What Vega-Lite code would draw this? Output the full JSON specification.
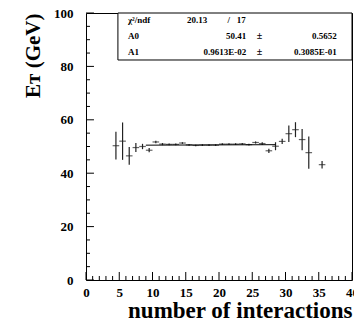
{
  "$schema": "https://vega.github.io/schema/vega-lite/v6.json",
  "width": 266,
  "height": 267,
  "autosize": {"type": "none"},
  "padding": {"left": 86, "top": 13, "right": 2, "bottom": 43},
  "background": "white",
  "config": {
    "view": {"stroke": "black", "strokeWidth": 1},
    "axis": {
      "domain": false,
      "ticks": false,
      "grid": false,
      "labelFont": "Liberation Serif",
      "labelFontWeight": "bold",
      "labelFontSize": 13,
      "labelColor": "black",
      "titleFont": "Liberation Serif",
      "titleFontWeight": "bold",
      "titleColor": "black",
      "labelOverlap": false,
      "labelFlush": false
    }
  },
  "datasets": {
    "points": [
      {"n": 4.5, "et": 50.3, "err": 5.2},
      {"n": 5.5, "et": 52.0, "err": 7.0},
      {"n": 6.5, "et": 46.5, "err": 3.3},
      {"n": 7.5, "et": 49.6, "err": 1.7},
      {"n": 8.5, "et": 50.0, "err": 1.0},
      {"n": 9.5, "et": 48.6, "err": 0.8},
      {"n": 10.5, "et": 51.7, "err": 0.5},
      {"n": 11.5, "et": 50.9, "err": 0.4},
      {"n": 12.5, "et": 50.8, "err": 0.3},
      {"n": 13.5, "et": 50.8, "err": 0.3},
      {"n": 14.5, "et": 51.3, "err": 0.3},
      {"n": 15.5, "et": 50.6, "err": 0.3},
      {"n": 16.5, "et": 50.4, "err": 0.3},
      {"n": 17.5, "et": 50.5, "err": 0.3},
      {"n": 18.5, "et": 50.5, "err": 0.3},
      {"n": 19.5, "et": 50.5, "err": 0.3},
      {"n": 20.5, "et": 50.9, "err": 0.3},
      {"n": 21.5, "et": 50.9, "err": 0.3},
      {"n": 22.5, "et": 50.9, "err": 0.3},
      {"n": 23.5, "et": 51.0, "err": 0.3},
      {"n": 24.5, "et": 50.7, "err": 0.3},
      {"n": 25.5, "et": 51.5, "err": 0.4},
      {"n": 26.5, "et": 51.1, "err": 0.5},
      {"n": 27.5, "et": 48.4, "err": 0.8},
      {"n": 28.5, "et": 50.1, "err": 1.5},
      {"n": 29.5, "et": 51.9, "err": 1.0},
      {"n": 30.5, "et": 54.8, "err": 3.1},
      {"n": 31.5, "et": 56.3, "err": 2.8},
      {"n": 32.5, "et": 52.6, "err": 4.0},
      {"n": 33.5, "et": 47.7, "err": 6.0},
      {"n": 35.5, "et": 43.2, "err": 1.4}
    ],
    "fit": [
      {"n": 9.0, "et": 50.50},
      {"n": 28.5, "et": 50.68}
    ],
    "xticks": [
      {"v": 0}, {"v": 1}, {"v": 2}, {"v": 3}, {"v": 4}, {"v": 5}, {"v": 6}, {"v": 7}, {"v": 8}, {"v": 9},
      {"v": 10}, {"v": 11}, {"v": 12}, {"v": 13}, {"v": 14}, {"v": 15}, {"v": 16}, {"v": 17}, {"v": 18}, {"v": 19},
      {"v": 20}, {"v": 21}, {"v": 22}, {"v": 23}, {"v": 24}, {"v": 25}, {"v": 26}, {"v": 27}, {"v": 28}, {"v": 29},
      {"v": 30}, {"v": 31}, {"v": 32}, {"v": 33}, {"v": 34}, {"v": 35}, {"v": 36}, {"v": 37}, {"v": 38}, {"v": 39},
      {"v": 40}
    ],
    "yticks": [
      {"v": 0}, {"v": 5}, {"v": 10}, {"v": 15}, {"v": 20}, {"v": 25}, {"v": 30}, {"v": 35}, {"v": 40}, {"v": 45},
      {"v": 50}, {"v": 55}, {"v": 60}, {"v": 65}, {"v": 70}, {"v": 75}, {"v": 80}, {"v": 85}, {"v": 90}, {"v": 95},
      {"v": 100}
    ],
    "stats": [
      {"name": "χ²/ndf", "value": "", "sep": "", "error": "", "summary": "20.13\u00a0\u00a0\u00a0\u00a0\u00a0\u00a0\u00a0\u00a0\u00a0/\u00a0\u00a0\u00a017"},
      {"name": "A0", "value": "50.41", "sep": "±", "error": "0.5652", "summary": ""},
      {"name": "A1", "value": "0.9613E-02", "sep": "±", "error": "0.3085E-01", "summary": ""}
    ]
  },
  "layer": [
    {
      "data": {"name": "points"},
      "resolve": {"axis": {"x": "independent", "y": "independent"}},
      "layer": [
        {
          "mark": {"type": "tick", "orient": "horizontal", "size": 6.6, "thickness": 1.2, "color": "#222"},
          "encoding": {
            "x": {
              "field": "n", "type": "quantitative",
              "scale": {"domain": [0, 40], "nice": false, "zero": false},
              "axis": {
                "orient": "bottom",
                "values": [0, 5, 10, 15, 20, 25, 30, 35, 40],
                "format": "d",
                "labelPadding": 6,
                "labelOverlap": false,
                "title": "number of interactions",
                "titleFontSize": 23,
                "titleAnchor": "end",
                "titlePadding": 0
              }
            },
            "y": {
              "field": "et", "type": "quantitative",
              "scale": {"domain": [0, 100], "nice": false},
              "axis": {
                "orient": "left",
                "values": [0, 20, 40, 60, 80, 100],
                "format": "d",
                "labelPadding": 13,
                "labelOverlap": false,
                "title": "Eᴛ (GeV)",
                "titleFontSize": 21,
                "titleAnchor": "end",
                "titlePadding": 10
              }
            }
          }
        },
        {
          "mark": {"type": "errorbar", "thickness": 1.2, "color": "#222"},
          "encoding": {
            "x": {"field": "n", "type": "quantitative", "axis": null},
            "y": {"field": "et", "type": "quantitative", "axis": null},
            "yError": {"field": "err"}
          }
        },
        {
          "data": {"name": "fit"},
          "mark": {"type": "line", "color": "black", "strokeWidth": 1},
          "encoding": {
            "x": {"field": "n", "type": "quantitative", "axis": null},
            "y": {"field": "et", "type": "quantitative", "axis": null}
          }
        },
        {
          "data": {"name": "xticks"},
          "transform": [{"filter": "datum.v % 5 === 0"}],
          "mark": {"type": "rule", "color": "black", "strokeWidth": 1},
          "encoding": {
            "x": {"field": "v", "type": "quantitative", "axis": null},
            "y": {"datum": 0, "type": "quantitative", "axis": null},
            "y2": {"datum": 3}
          }
        },
        {
          "data": {"name": "xticks"},
          "transform": [{"filter": "datum.v % 5 !== 0"}],
          "mark": {"type": "rule", "color": "black", "strokeWidth": 1},
          "encoding": {
            "x": {"field": "v", "type": "quantitative", "axis": null},
            "y": {"datum": 0, "type": "quantitative", "axis": null},
            "y2": {"datum": 1.5}
          }
        },
        {
          "data": {"name": "yticks"},
          "transform": [{"filter": "datum.v % 20 === 0"}],
          "mark": {"type": "rule", "color": "black", "strokeWidth": 1},
          "encoding": {
            "y": {"field": "v", "type": "quantitative", "axis": null},
            "x": {"datum": 0, "type": "quantitative", "axis": null},
            "x2": {"datum": 1.2}
          }
        },
        {
          "data": {"name": "yticks"},
          "transform": [{"filter": "datum.v % 20 !== 0"}],
          "mark": {"type": "rule", "color": "black", "strokeWidth": 1},
          "encoding": {
            "y": {"field": "v", "type": "quantitative", "axis": null},
            "x": {"datum": 0, "type": "quantitative", "axis": null},
            "x2": {"datum": 0.6}
          }
        },
        {
          "data": {"values": [{}]},
          "mark": {"type": "rect", "fill": "white", "stroke": "black", "strokeWidth": 1},
          "encoding": {
            "x": {"datum": 4.8, "type": "quantitative", "axis": null},
            "x2": {"datum": 40},
            "y": {"datum": 82.4, "type": "quantitative", "axis": null},
            "y2": {"datum": 100}
          }
        }
      ]
    },
    {
      "data": {"name": "stats"},
      "encoding": {
        "y": {
          "field": "name", "type": "nominal", "sort": null,
          "scale": {"type": "point", "domain": ["χ²/ndf", "A0", "A1"], "range": [7, 39], "padding": 0},
          "axis": null
        }
      },
      "layer": [
        {
          "mark": {"type": "text", "align": "left", "baseline": "middle", "font": "Liberation Serif", "fontWeight": "bold", "fontSize": 9, "color": "black"},
          "encoding": {"x": {"datum": 6.3, "type": "quantitative", "axis": null}, "text": {"field": "name"}}
        },
        {
          "mark": {"type": "text", "align": "left", "baseline": "middle", "font": "Liberation Serif", "fontWeight": "bold", "fontSize": 9, "color": "black"},
          "encoding": {"x": {"datum": 15.2, "type": "quantitative", "axis": null}, "text": {"field": "summary"}}
        },
        {
          "mark": {"type": "text", "align": "right", "baseline": "middle", "font": "Liberation Serif", "fontWeight": "bold", "fontSize": 9, "color": "black"},
          "encoding": {"x": {"datum": 24.1, "type": "quantitative", "axis": null}, "text": {"field": "value"}}
        },
        {
          "mark": {"type": "text", "align": "center", "baseline": "middle", "font": "Liberation Serif", "fontWeight": "bold", "fontSize": 10, "color": "black"},
          "encoding": {"x": {"datum": 26.1, "type": "quantitative", "axis": null}, "text": {"field": "sep"}}
        },
        {
          "mark": {"type": "text", "align": "right", "baseline": "middle", "font": "Liberation Serif", "fontWeight": "bold", "fontSize": 9, "color": "black"},
          "encoding": {"x": {"datum": 37.7, "type": "quantitative", "axis": null}, "text": {"field": "error"}}
        }
      ]
    }
  ],
  "resolve": {"scale": {"y": "independent"}}
}
